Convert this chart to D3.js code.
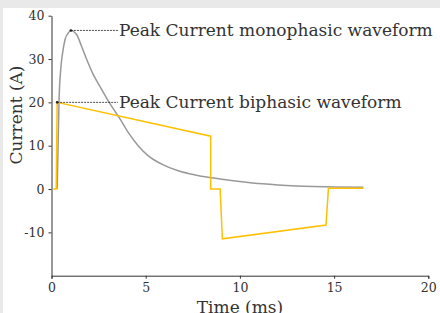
<!DOCTYPE html>
<html>
<head>
<meta charset="utf-8">
<script src="https://cdn.jsdelivr.net/npm/d3@7"></script>
<style>
  body { margin: 0; background: #e9e9e9; }
  #chart { position: absolute; left: 3px; top: 8px; width: 437px; height: 305px; background: #fff; }
  svg { position: absolute; left: 0; top: 0; }
  .axis path, .axis line { stroke: #333; }
  .axis text { fill: #333; font-family: "DejaVu Serif", serif; font-size: 12.5px; }
</style>
</head>
<body>
<div id="chart"></div>
<script>
// monophasic waveform (time in ms, current in A)
var monoTime = [0.3, 0.35, 0.4, 0.49, 0.59, 0.72, 0.89, 1.03, 1.34, 1.6, 1.87, 2.22, 2.57, 3.02, 3.62, 4.08, 4.61, 5.14, 5.85, 6.73, 7.62, 8.5, 10.0, 11.2, 13.0, 15.1, 16.55];
var monoCurrent = [0, 10, 20.3, 27.6, 31.4, 34.5, 36, 36.6, 35.6, 32.9, 29.9, 26.4, 23.7, 20.3, 16.3, 13.0, 9.95, 7.65, 5.75, 4.2, 3.25, 2.6, 1.75, 1.2, 0.7, 0.45, 0.4];
// biphasic waveform
var biTime = [0.1, 0.25, 0.3, 8.45, 8.45, 8.95, 9.07, 14.57, 14.7, 16.55];
var biCurrent = [0, 0, 20, 12.2, 0, 0, -11.5, -8.3, 0.2, 0.2];

var xTicks = [0, 5, 10, 15, 20];
var yTicks = [-10, 0, 10, 20, 30, 40];

var width = 440, height = 313;
var margin = { left: 51.5, right: 11.7, top: 15.7, bottom: 37.3 };

var svg = d3.select("body").append("svg").attr("width", width).attr("height", height);

var xScale = d3.scaleLinear().domain([0, 20]).range([margin.left, width - margin.right]);
var yScale = d3.scaleLinear().domain([-20, 40]).range([height - margin.bottom, margin.top]);

var xAxis = d3.axisBottom(xScale).tickValues(xTicks).tickFormat(String).tickSize(3).tickPadding(4);
var yAxis = d3.axisLeft(yScale).tickValues(yTicks).tickFormat(String).tickSize(3).tickSizeOuter(0).tickPadding(4);

svg.append("g")
    .attr("class", "axis x")
    .attr("transform", "translate(0," + (height - margin.bottom) + ")")
    .call(xAxis);

svg.append("g")
    .attr("class", "axis y")
    .attr("transform", "translate(" + margin.left + ",0)")
    .call(yAxis);

var monoData = monoTime.map(function (t, i) { return [t, monoCurrent[i]]; });
var biData = biTime.map(function (t, i) { return [t, biCurrent[i]]; });

var smooth = d3.line()
    .x(function (d) { return xScale(d[0]); })
    .y(function (d) { return yScale(d[1]); })
    .curve(d3.curveMonotoneX);

var straight = d3.line()
    .x(function (d) { return xScale(d[0]); })
    .y(function (d) { return yScale(d[1]); });

svg.append("path")
    .attr("fill", "none")
    .attr("stroke", "#999")
    .attr("stroke-width", 1.5)
    .attr("d", smooth(monoData));

svg.append("path")
    .attr("fill", "none")
    .attr("stroke", "#ffc000")
    .attr("stroke-width", 1.5)
    .attr("d", straight(biData));

// peak annotations
var monoPeak = d3.greatestIndex(monoCurrent);
var biPeak = d3.greatestIndex(biCurrent);
var notes = [
    { t: monoTime[monoPeak], v: monoCurrent[monoPeak], label: "Peak Current monophasic waveform" },
    { t: biTime[biPeak], v: biCurrent[biPeak], label: "Peak Current biphasic waveform" }
];
var labelX = 118;

notes.forEach(function (n) {
    var px = xScale(n.t), py = yScale(n.v);
    svg.append("line")
        .attr("x1", px).attr("x2", labelX)
        .attr("y1", py).attr("y2", py)
        .attr("stroke", "#222")
        .attr("stroke-width", 0.8)
        .attr("stroke-dasharray", "2,1");
    svg.append("circle")
        .attr("cx", px).attr("cy", py).attr("r", 1.3)
        .attr("fill", "#222");
    svg.append("text")
        .attr("x", labelX + 1)
        .attr("y", py)
        .attr("dy", "0.35em")
        .attr("fill", "#333")
        .style("font-family", "DejaVu Serif, serif")
        .style("font-size", "17px")
        .text(n.label);
});

// axis titles
svg.append("text")
    .attr("x", 240)
    .attr("y", 313)
    .attr("text-anchor", "middle")
    .attr("fill", "#333")
    .style("font-family", "DejaVu Serif, serif")
    .style("font-size", "17px")
    .text("Time (ms)");

svg.append("text")
    .attr("transform", "translate(22,115) rotate(-90)")
    .attr("text-anchor", "middle")
    .attr("fill", "#333")
    .style("font-family", "DejaVu Serif, serif")
    .style("font-size", "17px")
    .text("Current (A)");
</script>
</body>
</html>
